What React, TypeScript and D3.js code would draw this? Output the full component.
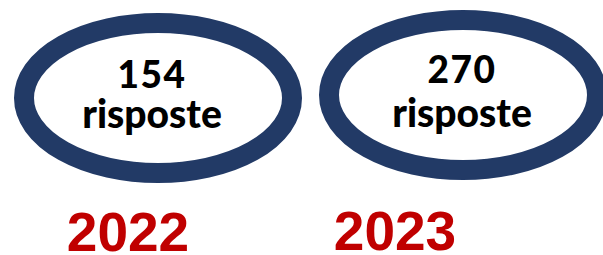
import React from "react";
import * as d3 from "d3";

const years = ["2022", "2023"];
const responses = [154, 270];
const responseLabel = "risposte";

const W = 603;
const H = 255;

export default function App() {
  const xEllipse = d3.scalePoint<string>().domain(years).range([158, 463]);
  const xText = d3.scalePoint<string>().domain(years).range([152, 462]);
  const xYear = d3.scalePoint<string>().domain(years).range([128, 395]);
  const cyEllipse = d3.scalePoint<string>().domain(years).range([98, 95]);
  const yNum = d3.scalePoint<string>().domain(years).range([88, 83]);
  const yWord = d3.scalePoint<string>().domain(years).range([128, 127]);
  const yYear = d3.scalePoint<string>().domain(years).range([251, 250]);
  const navy = "#223a66";
  const red = "#c00000";
  return (
    <svg
      width={W}
      height={H}
      style={{ position: "absolute", left: 0, top: 0, background: "#fff" }}
    >
      {years.map((y, i) => (
        <g key={y}>
          <ellipse
            cx={xEllipse(y)}
            cy={cyEllipse(y)}
            rx={134}
            ry={75}
            fill="#fff"
            stroke={navy}
            strokeWidth={20}
          />
          <text
            x={xText(y)}
            y={yNum(y)}
            textAnchor="middle"
            fontFamily="Lato, 'Noto Sans', sans-serif"
            fontWeight={900}
            fontSize={37}
            letterSpacing={1.5}
            fill="#000"
          >
            {responses[i]}
          </text>
          <text
            x={xText(y)}
            y={yWord(y)}
            textAnchor="middle"
            fontFamily="Lato, 'Noto Sans', sans-serif"
            fontWeight={900}
            fontSize={39}
            fill="#000"
          >
            {responseLabel}
          </text>
          <text
            x={xYear(y)}
            y={yYear(y)}
            textAnchor="middle"
            fontFamily="'Liberation Sans', Arial, sans-serif"
            fontWeight={700}
            fontSize={55}
            fill={red}
          >
            {y}
          </text>
        </g>
      ))}
    </svg>
  );
}
